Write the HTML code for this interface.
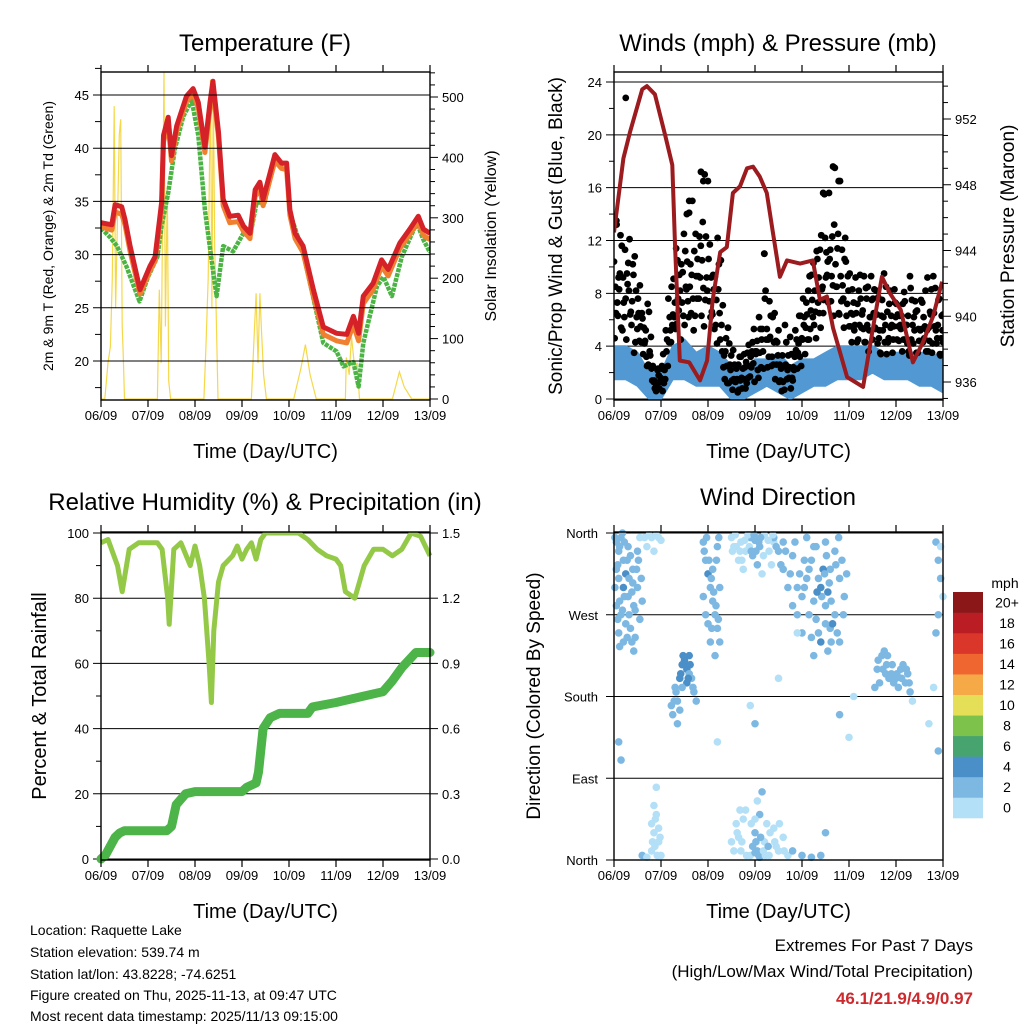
<!DOCTYPE html>
<html><head><meta charset="utf-8"><style>
html,body{margin:0;padding:0;background:#fff;}
svg{display:block;font-family:"Liberation Sans",Arial,sans-serif;}
</style></head><body>
<svg id="root" width="1024" height="1024" viewBox="0 0 1024 1024" xmlns="http://www.w3.org/2000/svg">
<rect width="1024" height="1024" fill="#fff"/>
<g id="p1"></g>
<g id="p2"></g>
<g id="p3"></g>
<g id="p4"></g>
<g id="txt">
<text x="30" y="935" font-size="14">Location: Raquette Lake</text>
<text x="30" y="957" font-size="14">Station elevation: 539.74 m</text>
<text x="30" y="979" font-size="14">Station lat/lon: 43.8228; -74.6251</text>
<text x="30" y="1000" font-size="14">Figure created on Thu, 2025-11-13, at 09:47 UTC</text>
<text x="30" y="1021" font-size="14">Most recent data timestamp: 2025/11/13 09:15:00</text>
<text x="973" y="951" font-size="17" text-anchor="end">Extremes For Past 7 Days</text>
<text x="973" y="977" font-size="17" text-anchor="end">(High/Low/Max Wind/Total Precipitation)</text>
<text x="973" y="1004" font-size="17" font-weight="bold" fill="#cc2a2e" text-anchor="end">46.1/21.9/4.9/0.97</text>
</g>
</svg>
<script>
// ---------- DATA ----------
const dayLabels = ["06/09","07/09","08/09","09/09","10/09","11/09","12/09","13/09"];
// Temperature panel
const tempTicks = [20,25,30,35,40,45];
const solarTicks = [0,100,200,300,400,500];
const redT = [0,0.23,0.3,0.44,0.51,0.62,0.83,1.04,1.15,1.29,1.33,1.43,1.5,1.61,1.82,1.96,2.07,2.21,2.32,2.38,2.5,2.6,2.74,2.92,3.03,3.17,3.28,3.38,3.45,3.7,3.84,3.95,4.02,4.13,4.3,4.52,4.73,5.01,5.23,5.37,5.48,5.58,5.79,5.97,6.11,6.36,6.57,6.75,6.86,7.0];
const redV = [33.0,32.8,34.7,34.5,33.3,30.8,26.7,28.9,29.8,34.9,41.2,42.9,39.3,42.1,44.9,45.6,44.3,40.1,44.3,46.3,41.5,35.2,33.6,33.7,32.7,32.0,36.1,36.8,35.2,39.4,38.6,38.6,34.2,32.0,30.8,26.7,23.2,22.6,22.5,24.2,22.6,26.1,27.3,29.5,28.6,31.1,32.4,33.6,32.4,32.0];
const orangeV = [32.6,32.3,34.0,33.8,32.8,30.3,26.3,28.5,29.4,34.3,40.6,42.3,38.8,41.6,44.4,45.1,43.8,39.6,43.7,45.6,41.0,34.6,33.0,33.1,32.2,31.5,35.5,36.1,34.6,38.8,38.1,38.0,33.7,31.5,30.2,26.1,22.5,21.9,21.7,23.4,21.9,25.4,26.7,28.9,28.0,30.6,31.9,33.1,31.8,31.4];
const greenT = [0,0.2,0.34,0.54,0.82,1.0,1.2,1.29,1.43,1.57,1.75,1.93,2.07,2.21,2.39,2.46,2.6,2.81,3.03,3.17,3.31,3.48,3.7,3.95,4.02,4.3,4.59,4.73,5.01,5.16,5.37,5.48,5.58,5.87,6.01,6.19,6.4,6.72,6.86,7.0];
const greenV = [32.5,31.6,30.8,28.9,25.6,27.9,29.8,32.7,35.8,39.9,43.0,44.5,41.2,34.2,28.3,26.1,30.8,30.3,32.0,31.7,34.9,34.9,39.0,38.3,33.9,30.2,24.5,21.7,20.9,19.5,19.9,17.6,21.7,27.0,27.9,26.1,29.8,33.0,31.4,30.2];
const solarT = [0,0.08,0.15,0.2,0.24,0.28,0.31,0.35,0.39,0.42,0.45,0.47,0.5, 1.2,1.24,1.28,1.34,1.37,1.41,1.44,1.48, 2.19,2.23,2.28,2.33,2.36,2.39,2.42,2.44,2.49, 3.2,3.25,3.3,3.34,3.38,3.41,3.46,3.52, 4.1,4.25,4.35,4.45,4.58, 5.2,5.22,5.28,5.33,5.4,5.45,5.5, 6.2,6.3,6.35,6.45,6.61,7.0];
const solarV = [0,0,60,87,200,485,150,300,438,463,120,80,0, 0,181,60,541,120,352,30,0, 0,80,200,529,150,522,250,181,0, 0,92,175,60,175,120,40,0, 0,50,90,40,0, 0,69,40,103,50,60,0, 0,30,45,20,0,0];
// Winds panel
const windTicks = [0,4,8,12,16,20,24];
const presTicks = [936,940,944,948,952];
const presT = [0,0.2,0.34,0.6,0.7,0.87,1.09,1.24,1.3,1.4,1.6,1.83,1.98,2.1,2.26,2.4,2.53,2.68,2.83,2.96,3.1,3.25,3.38,3.53,3.68,3.96,4.23,4.38,4.53,4.66,4.96,5.3,5.51,5.7,5.87,6.1,6.36,6.57,6.79,6.98];
const presV = [945.1,949.6,951.2,953.8,954.0,953.5,951.0,949.2,944.2,937.3,937.2,936.1,937.3,941.0,943.9,944.2,947.5,947.9,949.0,949.1,948.5,947.5,945.1,942.4,943.4,943.2,943.4,941.0,941.2,939.3,936.3,935.7,939.3,942.4,941.4,940.4,937.2,938.4,940.0,942.1];
const windLo = [1.5,1.5,1,0,0,1.5,1.5,1,1,1,0,0,0.5,1,0.5,0,0.5,1,1,1.5,1.5,1.5,2,1.5,1.5,1.5,1,1,0.5];
const windHi = [4,4,3.5,2,2,4,4.5,3.5,4,3.5,2.5,2,3,3,3.5,2.5,3,3,3.5,4,4,4,4,3.5,3.5,3.5,3.5,3.5,3];
const gustA = [10.4,13.2,8.3,11.6,6.2,9.5,12.1,7.4,10.8,5.3,8.6, 6.1,4.4,7.2,3.3,2.5,1.2,2.3,1.6,3.4, 5.2,7.6,4.3,9.1,11.4,6.7,10.2,12.5,8.3, 14.1,9.4,11.2,7.6,12.3,10.5,17.0,8.2,11.7, 6.4,9.3,12.2,4.5,7.1,3.6,5.4,2.2,3.7, 1.3,2.6,3.2,1.5,2.8,4.1,2.4,5.3,3.6, 6.2,4.5,11.0,5.3,7.4,3.2,6.5,4.3,2.6, 3.3,5.6,2.2,4.7,1.4,5.2,3.5,6.3,7.6, 5.4,8.2,6.7,10.3,4.6,9.2,12.4,7.5,11.1, 15.6,9.3,13.2,8.5,6.4,11.3,10.6,7.2,9.5, 8.3,5.6,7.2,9.4,6.7,4.3,8.5,6.2,7.6, 5.3,7.7,3.4,6.2,8.5,4.6,6.3,5.5,7.2, 4.4,6.3,8.1,5.6,3.3,7.5,5.2,6.7,4.4, 7.3,5.5,9.2,6.6,4.2,8.4,5.6,3.3,6.4];
const gustB = [4.6,7.3,9.5,5.2,11.3,8.7,6.4,10.2,4.3,7.6,5.5, 3.4,5.2,2.6,4.7,1.3,0.6,1.8,2.3,1.2, 3.6,4.3,8.5,6.2,5.7,9.4,7.3,5.6,10.4, 8.5,15.0,6.3,10.6,9.2,13.4,7.5,16.5,6.2, 9.4,5.6,8.3,10.5,2.4,4.6,1.2,3.3,1.5, 2.3,0.7,1.6,3.4,1.2,2.5,3.6,1.3,4.4, 3.5,5.3,7.6,2.4,4.7,6.2,1.5,3.3,1.4, 1.3,2.6,3.3,0.8,2.4,3.7,4.2,2.5,5.6, 7.3,4.5,9.4,5.6,11.2,6.5,8.3,15.5,9.4, 10.6,12.3,17.5,11.4,16.5,8.6,12.2,9.3,5.5, 6.4,9.2,4.5,7.6,5.3,8.4,3.6,9.3,6.5, 8.2,4.6,6.3,9.5,3.4,7.2,5.6,8.3,4.5, 6.3,3.6,7.4,4.2,9.3,5.6,7.4,3.5,5.2, 4.3,8.2,3.6,6.4,9.3,5.2,7.5,4.6,3.4];
const gustC = [8.5,6.3,12.4,9.2,7.6,10.3,6.6,9.4,8.2,6.5,4.3, 5.4,3.2,6.6,2.3,1.4,1.2,0.8,2.5,2.2, 4.5,6.2,5.6,7.3,10.5,8.2,9.6,11.2,7.4, 10.2,7.6,12.5,9.3,11.6,8.4,12.3,10.6,9.2, 8.3,7.5,10.2,5.6,3.3,2.5,4.2,1.4,2.6, 1.5,3.2,0.8,2.4,3.5,1.7,4.3,3.6,2.2, 5.3,3.6,8.2,4.5,6.3,2.6,4.4,5.2,2.3, 2.5,4.3,1.6,3.4,2.2,4.5,6.3,4.6,6.2, 6.4,9.3,7.5,8.2,10.6,11.3,8.5,12.2,10.4, 11.3,8.6,10.2,12.5,9.3,7.6,10.4,8.2,6.5, 7.3,6.5,8.2,5.4,9.3,7.6,5.2,7.5,8.3, 6.4,5.2,7.5,4.3,6.6,8.2,3.5,7.3,6.4, 5.6,7.2,4.5,6.3,8.4,4.2,6.6,5.3,7.5, 6.2,3.6,5.4,8.3,6.5,4.2,7.6,6.3,5.2];
const gustD = [6.5,9.2,5.4,7.3,4.5,8.2,5.6,3.5,6.2,4.4,6.5, 4.2,2.5,3.6,1.4,0.8,2.2,1.3,0.6,1.5, 2.5,5.2,6.4,5.3,7.6,4.5,6.3,8.5,6.2, 6.5,5.2,9.3,7.6,6.3,5.5,9.2,7.4,6.6, 5.3,4.2,6.5,3.6,1.5,1.2,2.6,0.7,1.3, 0.5,1.4,2.3,0.8,1.6,3.2,2.7,3.4,1.6, 2.4,2.3,4.5,3.2,2.5,4.3,2.6,1.3,0.6, 0.7,1.5,2.4,1.6,3.2,2.3,3.2,4.5,3.4, 4.5,5.3,6.2,6.6,7.3,5.4,6.5,9.2,7.3, 7.4,6.3,8.5,6.5,7.4,5.4,6.3,5.5,4.3, 5.2,4.3,5.6,6.4,4.3,5.6,6.2,4.5,5.4, 4.2,3.5,5.2,5.6,4.3,5.4,4.5,6.2,5.5, 5.3,4.5,5.6,3.6,4.5,6.2,3.5,4.4,5.3, 4.6,5.2,4.4,3.5,5.5,4.6,3.4,5.2,4.3];
const gustOutT = [0.05,0.25,1.55,1.6,1.85,1.9,3.2,4.45,4.66,4.78];
const gustOutV = [13.5,22.8,14,15,17.2,16.5,11,15.6,17.6,16.5];
// RH panel
const rhTicks = [0,20,40,60,80,100];
const rainTicks = ["0.0","0.3","0.6","0.9","1.2","1.5"];
const rhT = [0,0.15,0.35,0.45,0.6,0.8,1.0,1.2,1.3,1.42,1.45,1.55,1.7,1.9,2.0,2.1,2.2,2.3,2.35,2.4,2.5,2.6,2.8,2.9,3.0,3.1,3.2,3.3,3.4,3.5,4.2,4.4,4.6,4.8,5.0,5.1,5.2,5.4,5.5,5.6,5.8,6.0,6.2,6.4,6.6,6.8,7.0];
const rhV = [97,98,90,82,95,97,97,97,95,80,72,95,97,90,96,90,80,60,48,70,85,90,93,96,92,95,97,92,98,100,100,98,95,93,92,90,82,80,85,90,95,95,93,95,100,99,93];
const rainT = [0,0.1,0.3,0.4,0.5,1.4,1.5,1.6,1.8,2.0,3.0,3.1,3.3,3.35,3.45,3.6,3.8,4.4,4.5,5.0,5.6,6.0,6.2,6.4,6.7,7.0];
const rainV = [0,0.02,0.1,0.12,0.13,0.13,0.15,0.25,0.3,0.31,0.31,0.33,0.35,0.4,0.6,0.65,0.67,0.67,0.7,0.72,0.75,0.77,0.82,0.88,0.95,0.95];
// Wind direction panel
const dirLabels = ["North","East","South","West","North"];
const cbLabels = ["0","2","4","6","8","10","12","14","16","18","20+"];
const dirT = [0.05,0.1,0.15,0.2,0.3,0.4,0.5,0.55,0.1,0.2,0.3,0.4,0.05,0.15,0.25,0.35,0.45,0.1,0.2,0.5,0.6,0.25,0.35,0.45,0.55,
 0.8,0.9,1.0,0.85,
 1.3,1.35,1.4,1.45,1.5,1.55,1.6,1.65,1.7,1.25,1.4,1.55,1.6,1.75,1.35,
 1.9,1.95,2.0,2.05,2.1,2.15,2.2,2.25,1.95,2.0,2.1,2.2,2.05,2.15,2.25,1.9,
 2.5,2.6,2.7,2.8,2.9,3.0,3.1,3.2,3.3,3.4,2.65,2.75,2.95,3.05,3.15,2.55,2.85,3.35,
 3.4,3.5,3.6,3.7,3.8,3.9,4.0,4.1,4.2,4.3,4.4,4.5,4.6,4.7,4.8,4.9,4.0,4.2,4.4,4.6,4.3,4.5,4.1,3.8,4.7,4.8,3.6,4.45,4.55,4.25,3.95,4.65,
 5.6,5.7,5.8,5.9,6.0,6.1,6.2,6.3,5.65,5.75,5.85,6.05,6.15,6.25,5.55,6.35,
 6.85,6.9,6.95,7.0,6.9,6.85,6.95,
 0.8,0.85,0.9,0.95,1.0,0.85,0.9,0.8,0.95,0.6,0.7,
 2.5,2.6,2.7,2.8,2.9,3.0,3.05,3.1,3.2,3.3,3.4,3.5,3.6,3.7,3.0,3.1,2.95,2.65,2.75,3.25,3.45,3.8,4.0,4.2,4.4,4.5,3.15,3.05,
 0.1,0.15,3.0,2.9,4.8,5.0,6.7,6.9,2.2,3.5,3.9,6.8,5.1];
const dirV = [350,340,355,330,345,320,340,355,310,300,290,305,280,270,260,255,245,250,240,300,285,315,335,275,265,
 355,358,352,340,
 190,175,200,215,220,210,225,200,185,160,165,195,205,175,150,
 350,330,315,300,285,270,255,240,270,260,320,345,240,225,300,290,
 355,345,350,340,355,352,345,358,340,350,330,320,335,325,315,345,358,325,
 355,340,320,300,280,270,290,310,330,345,300,280,320,340,310,290,250,245,240,255,265,350,355,335,270,240,350,320,295,285,315,260,
 210,225,215,205,200,210,195,185,195,230,200,190,215,205,190,175,
 350,330,310,290,270,250,345,
 10,30,50,20,5,60,80,40,35,5,3,
 20,40,10,55,5,30,10,50,20,5,35,10,25,5,8,3,15,25,45,40,15,10,5,3,5,30,75,65,
 130,110,150,170,160,135,150,120,130,200,250,190,180];
const dirS = [2,3,2,2,3,2,2,1,3,4,2,3,2,2,3,2,2,2,3,2,2,4,2,3,2,
 0,0,0,0,
 3,3,4,4,5,4,5,3,3,2,3,5,3,2,2,
 2,3,4,3,2,3,2,2,2,3,2,3,2,2,3,2,
 0,0,0,0,2,2,2,0,0,0,0,1,2,3,0,0,0,0,
 2,2,2,2,2,2,3,2,3,2,4,3,3,2,2,2,2,3,4,3,2,2,2,2,2,2,2,4,4,2,2,4,
 2,3,2,2,2,2,3,2,2,2,2,2,2,2,2,1,
 2,2,2,1,2,2,1,
 0,0,0,0,0,0,0,0,1,2,1,
 0,0,0,0,0,2,3,2,0,0,0,0,0,1,3,2,2,0,0,0,0,2,2,2,2,2,2,1,
 2,2,2,0,2,0,1,2,0,0,0,0,0];
const dirT2 = [0.02,0.08,0.12,0.18,0.22,0.28,0.32,0.38,0.42,0.48,0.52,0.58,0.02,0.08,0.12,0.18,0.22,0.28,0.32,0.38,0.42,0.05,0.12,
 0.65,0.75,0.95,0.7,
 1.32,1.42,1.47,1.52,1.58,1.62,1.28,1.45,1.68,1.22,
 1.92,1.97,2.02,2.07,2.12,2.17,2.22,2.08,2.18,2.23,
 2.52,2.58,2.68,2.78,2.88,2.98,3.08,3.02,3.12,3.18,3.28,3.38,2.72,2.92,
 3.45,3.55,3.65,3.75,3.85,3.9,4.05,4.15,4.25,4.35,4.42,4.52,4.58,4.62,4.72,4.78,4.85,4.88,4.95,4.15,4.35,4.5,4.55,4.25,4.62,4.75,4.05,4.32,4.48,
 5.62,5.72,5.82,5.92,6.02,6.12,6.22,6.28,5.78,5.95,
 0.82,0.88,0.92,0.98,0.87,2.55,2.62,2.72,2.82,2.92,3.02,3.08,3.12,3.18,3.22,3.32,3.42,3.52,3.62,3.0,2.68,3.28];
const dirV2 = [355,325,345,360,350,330,310,295,280,320,330,310,300,265,285,275,290,245,270,240,230,320,235,
 355,358,355,345,
 185,205,225,215,200,215,175,190,190,170,
 340,355,330,310,295,280,265,255,330,355,
 340,358,340,352,345,358,350,340,355,335,352,358,330,340,
 345,325,340,315,350,300,330,320,345,310,290,335,305,285,325,355,330,270,315,270,250,260,230,225,240,250,300,295,315,
 220,210,225,215,205,200,210,195,205,195,
 20,45,5,25,15,10,30,20,5,40,20,5,25,10,5,30,20,40,10,45,55,15];
const dirS2 = [2,2,2,2,3,2,2,2,2,2,2,2,2,2,3,2,2,2,2,2,2,2,2,
 0,0,0,0,
 3,4,4,5,4,4,3,3,3,2,
 2,2,3,3,2,2,2,2,3,2,
 0,0,0,0,0,2,2,2,2,0,0,0,0,2,
 2,2,2,2,2,2,2,3,2,3,3,2,3,2,2,2,2,2,2,2,2,3,2,2,3,2,3,4,3,
 2,2,2,2,2,2,2,2,2,2,
 0,0,0,0,0,0,0,0,0,0,2,3,2,0,0,0,0,0,0,0,0,2];
const cbColors = ["#b3e0f7","#7db8e3","#4a8fc8","#47a46f","#7dc24a","#e5df58","#f6a947","#ef6631","#da3629","#bb1d24","#8b1719"];

// ---------- HELPERS ----------
const NS = "http://www.w3.org/2000/svg";
function mk(parent, tag, attrs) {
  const e = document.createElementNS(NS, tag);
  for (const k in attrs) e.setAttribute(k, attrs[k]);
  parent.appendChild(e);
  return e;
}
function txt(parent, x, y, s, size, anchor, rot) {
  const e = mk(parent, "text", {x:x, y:y, "font-size":size, "text-anchor":anchor||"middle", fill:"#000"});
  if (rot) e.setAttribute("transform", "rotate(" + rot + " " + x + " " + y + ")");
  e.textContent = s;
  return e;
}
const PW = 329, PH = 328;
function xs(x0){ return t => x0 + t * PW / 7; }
function lin(d0, d1, y0, y1){ return v => y0 + (v - d0) * (y1 - y0) / (d1 - d0); }
function pathD(ts, vs, fx, fy){ return ts.map((t,i)=>(i?"L":"M")+fx(t).toFixed(1)+","+fy(vs[i]).toFixed(1)).join(""); }

function frame(g, x0, y0, bottomLabelY, titleY) {
  const fx = xs(x0);
  for (let d = 0; d <= 7; d++) {
    const x = fx(d);
    const tk = mk(g, "line", {x1:x, y1:y0+PH, x2:x, y2:y0+PH+7, stroke:"#000", "stroke-width":1.2});
    
    
    const tk2 = mk(g, "line", {x1:x, y1:y0, x2:x, y2:y0-7, stroke:"#000", "stroke-width":1.2});
    
    
    const l = txt(g, x, bottomLabelY, dayLabels[d], 13);
    
    
  }
  const at = txt(g, x0 + PW/2, titleY, "Time (Day/UTC)", 20);
  
  
}
function border(g, x0, y0) {
  const b = mk(g, "rect", {x:x0, y:y0, width:PW, height:PH, fill:"none", stroke:"#000", "stroke-width":1.4});
  
  
}
function hgrid(g, x0, y, ext) {
  const l = mk(g, "line", {x1:x0-(ext?8:0), y1:y, x2:x0+PW, y2:y, stroke:"#000", "stroke-width":1});
  
  
}
function tick(g, x, y, len) {
  const l = mk(g, "line", {x1:x, y1:y, x2:x+len, y2:y, stroke:"#000", "stroke-width":1});
  
  
}

// ---------- PANEL 1: Temperature ----------
(function(){
  const g = document.getElementById("p1");
  const x0 = 101, y0 = 72, fx = xs(x0);
  const fy = lin(20, 45, 361, 95);
  const fs = lin(0, 500, 399, 97);
  const ttl = txt(g, 265, 51, "Temperature (F)", 24);
  
  
  const clip = mk(g, "clipPath", {id:"c1"}); mk(clip, "rect", {x:x0, y:y0, width:PW, height:PH});
  const data = mk(g, "g", {"clip-path":"url(#c1)"});
  const sol = mk(data, "path", {d:pathD(solarT, solarV, fx, fs), fill:"none", stroke:"#f5d84a", "stroke-width":1.2});
  
  
  tempTicks.forEach(v => hgrid(g, x0, fy(v), true));
  const gr = mk(data, "path", {d:pathD(greenT, greenV, fx, fy), fill:"none", stroke:"#4cb444", "stroke-width":4.5, "stroke-dasharray":"4 1", "stroke-linejoin":"round"});
  
  
  const or = mk(data, "path", {d:pathD(redT, orangeV, fx, fy), fill:"none", stroke:"#f08030", "stroke-width":5, "stroke-linejoin":"round"});
  
  
  const rd = mk(data, "path", {d:pathD(redT, redV, fx, fy), fill:"none", stroke:"#d42228", "stroke-width":5, "stroke-linejoin":"round"});
  
  
  border(g, x0, y0);
  tempTicks.forEach(v => { const l = txt(g, x0-12, fy(v)+5, String(v), 13, "end");   });
  for (let v = 17.5; v <= 47.5; v += 5) tick(g, x0-6, fy(v), 6);
  for (let v = 0; v <= 540; v += 20) tick(g, x0+PW, fs(v), v % 100 === 0 ? 8 : 5);
  solarTicks.forEach(v => { const l = txt(g, x0+PW+12, fs(v)+5, String(v), 13, "start");   });
  const yl = txt(g, 53, 236, "2m & 9m T (Red, Orange) & 2m Td (Green)", 14, "middle", -90);
  
  
  const yr = txt(g, 496, 236, "Solar Insolation (Yellow)", 16, "middle", -90);
  
  
  frame(g, x0, y0, 420, 458);
})();

// ---------- PANEL 2: Winds ----------
(function(){
  const g = document.getElementById("p2");
  const x0 = 614, y0 = 72, fx = xs(x0);
  const fy = lin(0, 24, 399, 82);
  const fp = lin(936, 952, 382, 119);
  const ttl = txt(g, 778, 51, "Winds (mph) & Pressure (mb)", 24);
  
  
  const clip = mk(g, "clipPath", {id:"c2"}); mk(clip, "rect", {x:x0, y:y0, width:PW, height:PH});
  windTicks.forEach(v => hgrid(g, x0, fy(v), true));
  const data = mk(g, "g", {"clip-path":"url(#c2)"});
  const step = 7 / (windLo.length - 1);
  const bt = windLo.map((v,i)=>i*step);
  let d = pathD(bt, windHi, fx, fy);
  d += bt.slice().reverse().map((t,i)=>"L"+fx(t).toFixed(1)+","+fy(windLo[windLo.length-1-i]).toFixed(1)).join("") + "Z";
  const band = mk(data, "path", {d:d, fill:"#5299d3", stroke:"#5299d3", "stroke-width":2});
  
  
  const gg = mk(data, "g", {fill:"#000"});
  
  
  [gustA, gustB, gustC, gustD].forEach((arr, k) => {
    const st = 7 / (arr.length - 1);
    arr.forEach((v, i) => {
      const c = mk(gg, "circle", {cx:fx(Math.min(7, i*st + k*0.014)), cy:fy(v), r:3.4});
      
      
    });
  });
  gustOutT.forEach((t, i) => {
    const c = mk(gg, "circle", {cx:fx(t), cy:fy(gustOutV[i]), r:3.4});
    
    
  });
  const pr = mk(data, "path", {d:pathD(presT, presV, fx, fp), fill:"none", stroke:"#9b1b1e", "stroke-width":4, "stroke-linejoin":"round"});
  
  
  border(g, x0, y0);
  windTicks.forEach(v => { const l = txt(g, x0-12, fy(v)+5, String(v), 13, "end");   });
  for (let v = 2; v <= 24; v += 4) tick(g, x0-5, fy(v), 5);
  for (let v = 935; v <= 954; v++) tick(g, x0+PW, fp(v), (v % 4 === 0) ? 8 : 5);
  presTicks.forEach(v => { const l = txt(g, x0+PW+12, fp(v)+5, String(v), 13, "start");   });
  const yl = txt(g, 562, 236, "Sonic/Prop Wind & Gust (Blue, Black)", 19, "middle", -90);
  
  
  const yr = txt(g, 1014, 236, "Station Pressure (Maroon)", 19, "middle", -90);
  
  
  frame(g, x0, y0, 420, 458);
})();

// ---------- PANEL 3: RH & Precip ----------
(function(){
  const g = document.getElementById("p3");
  const x0 = 101, y0 = 532, fx = xs(x0);
  const fy = lin(0, 100, 859, 533);
  const fr = lin(0, 1.5, 859, 533);
  const ttl = txt(g, 265, 510, "Relative Humidity (%) & Precipitation (in)", 24);
  
  
  const clip = mk(g, "clipPath", {id:"c3"}); mk(clip, "rect", {x:x0-5, y:y0, width:PW+10, height:PH+5});
  rhTicks.forEach(v => hgrid(g, x0, fy(v), true));
  const data = mk(g, "g", {"clip-path":"url(#c3)"});
  const rn = mk(data, "path", {d:pathD(rainT, rainV, fx, fr), fill:"none", stroke:"#4cb448", "stroke-width":9, "stroke-linejoin":"round", "stroke-linecap":"round"});
  
  
  const rh = mk(data, "path", {d:pathD(rhT, rhV, fx, fy), fill:"none", stroke:"#94c948", "stroke-width":5, "stroke-linejoin":"round"});
  
  
  border(g, x0, y0);
  rhTicks.forEach(v => { const l = txt(g, x0-12, fy(v)+5, String(v), 13, "end");   });
  for (let v = 10; v <= 100; v += 20) tick(g, x0-5, fy(v), 5);
  rainTicks.forEach(s => { const v = parseFloat(s); tick(g, x0+PW, fr(v), 8); const l = txt(g, x0+PW+12, fr(v)+5, s, 13, "start");   });
  const yl = txt(g, 46, 696, "Percent & Total Rainfall", 20, "middle", -90);
  
  
  frame(g, x0, y0, 880, 918);
})();

// ---------- PANEL 4: Wind direction ----------
(function(){
  const g = document.getElementById("p4");
  const x0 = 614, y0 = 532, fx = xs(x0);
  const fy = lin(0, 360, 860, 533);
  const ttl = txt(g, 778, 505, "Wind Direction", 24);
  
  
  [0,90,180,270,360].forEach(v => hgrid(g, x0, fy(v), true));
  const data = mk(g, "g", {});
  [[dirT, dirV, dirS], [dirT2, dirV2, dirS2]].forEach(set => {
    set[0].forEach((t, i) => {
      const s = set[2][i];
      const c = mk(data, "circle", {cx:fx(t), cy:fy(set[1][i]), r:3.8, fill:cbColors[Math.min(10, Math.floor(s/2))]});
      
      
    });
  });
  border(g, x0, y0);
  dirLabels.forEach((s, i) => { const l = txt(g, x0-16, fy(i*90)+5, s, 13, "end");   });
  const yl = txt(g, 540, 696, "Direction (Colored By Speed)", 19, "middle", -90);
  
  
  frame(g, x0, y0, 880, 918);
  const cb = mk(g, "g", {});
  
  
  const cbTop = 592, cbH = 226, bh = cbH / cbColors.length;
  cbColors.forEach((c, i) => {
    const r = mk(cb, "rect", {x:953, y:cbTop + cbH - (i+1)*bh, width:30, height:bh+0.3, fill:c});
    
    
    const l = txt(cb, 1007, cbTop + cbH - i*bh - bh/2 + 5, cbLabels[i], 14);
    
    
  });
  const u = txt(cb, 1005, 588, "mph", 14);
  
  
})();
</script>
</body></html>
